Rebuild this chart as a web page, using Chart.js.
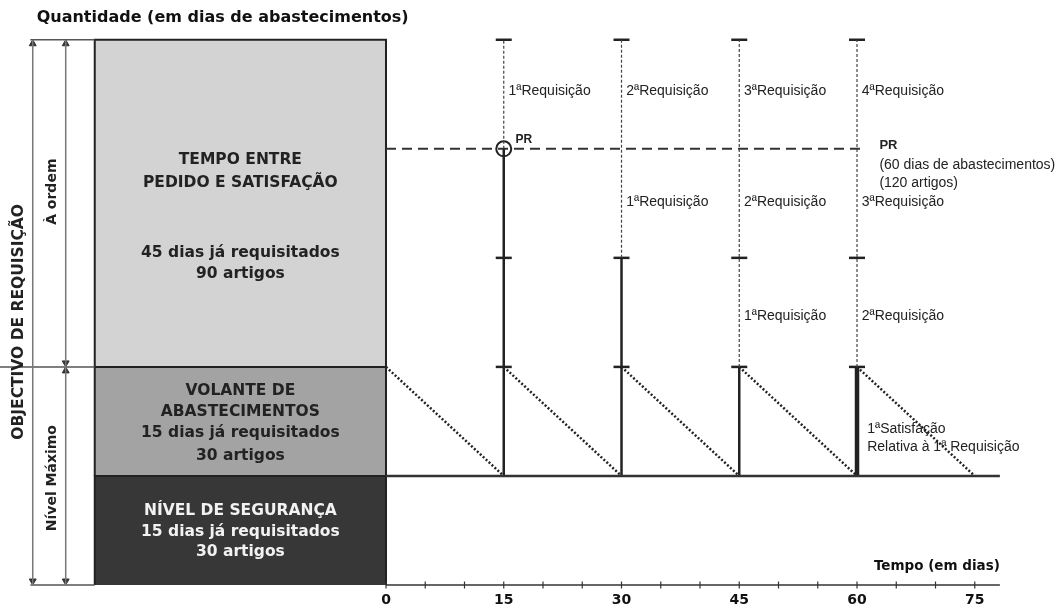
<!DOCTYPE html>
<html>
<head>
<meta charset="utf-8">
<script src="https://cdn.jsdelivr.net/npm/chart.js@4.4.1/dist/chart.umd.min.js"></script>
<style>
    body { margin: 0; background: #fff; }
    #contentor { width: 1063px; height: 608px; }
</style>
</head>
<body>
<div id="contentor"><canvas id="graficoRequisicao"></canvas></div>
<script>
const diasEixo = [0, 15, 30, 45, 60, 75];
const marcasEixo = [0, 5, 10, 15, 20, 25, 30, 35, 40, 45, 50, 55, 60, 65, 70, 75];
const diasRequisicao = [15, 30, 45, 60];
const topoSolido = [60, 45, 30, 30];          // até onde a linha de cada pedido é cheia
const marcasRequisicao = [75, 45, 30];        // traços em cada linha de pedido
const inicioDescida = [0, 15, 30, 45, 60];
const nivelSeguranca = 15;
const nivelVolante = 30;
const pontoPedido = 60;
const nivelMaximo = 75;
const limitesCaixas = [0, 15, 30, 75];
const coresCaixas = ['#373737', '#a3a3a3', '#d3d3d3'];
const linhasRequisicao = [68.0, 52.6, 37.0];
const fimEixo = 78.2;
const fimPR = 61;
const inicioCaixa = -37.1;
const setaExterior = -45;
const setaInterior = -40.8;

const fonteNegrito = '"DejaVu Sans", sans-serif';
const fonteNormal = '"Liberation Sans", Arial, sans-serif';

function linha(pontos, cor, largura, tracejado) {
    return {
        data: pontos,
        borderColor: cor,
        borderWidth: largura,
        borderDash: tracejado || [],
        pointRadius: 0,
        fill: false,
        clip: false
    };
}

function marcas(pontos, estilo, raio, rotacao, largura, cor) {
    return {
        data: pontos,
        showLine: false,
        pointStyle: estilo,
        pointRadius: raio,
        pointRotation: rotacao,
        pointBorderWidth: largura,
        pointBorderColor: cor,
        pointBackgroundColor: cor,
        clip: false
    };
}

let datasets = [];

// eixo do tempo e as suas marcas
datasets.push(linha([{ x: 0, y: 0 }, { x: fimEixo, y: 0 }], '#333', 1.5));
datasets.push(marcas(marcasEixo.map(d => ({ x: d, y: 0 })), 'line', 3.5, 90, 1.2, '#333'));

// nível de segurança (base do consumo)
datasets.push(linha([{ x: 0, y: nivelSeguranca }, { x: fimEixo, y: nivelSeguranca }], '#333', 2.5));

// linhas dos pedidos
diasRequisicao.forEach((d, i) => {
    datasets.push(linha([{ x: d, y: nivelSeguranca }, { x: d, y: topoSolido[i] }], '#222', i === 3 ? 4.5 : 2.5));
    datasets.push(linha([{ x: d, y: topoSolido[i] }, { x: d, y: nivelMaximo }], '#444', 1.2, [3, 2]));
    datasets.push(marcas(marcasRequisicao.map(v => ({ x: d, y: v })), 'line', 8, 0, 2.5, '#222'));
});

// consumo (dente de serra)
inicioDescida.forEach(s => {
    datasets.push(linha([{ x: s, y: nivelVolante }, { x: s + 15, y: nivelSeguranca }], '#222', 2.5, [2, 2]));
});

// ponto de encomenda
datasets.push(linha([{ x: 0, y: pontoPedido }, { x: fimPR, y: pontoPedido }], '#333', 2, [10, 6]));
datasets.push({
    data: [{ x: 15, y: pontoPedido }],
    showLine: false,
    pointStyle: 'circle',
    pointRadius: 7.5,
    pointBorderWidth: 2,
    pointBorderColor: '#222',
    pointBackgroundColor: 'rgba(0,0,0,0)',
    clip: false
});

// setas da esquerda
datasets.push(linha([{ x: setaExterior, y: 0 }, { x: setaExterior, y: nivelMaximo }], '#777', 1.5));
datasets.push(linha([{ x: setaInterior, y: 0 }, { x: setaInterior, y: nivelMaximo }], '#777', 1.5));
datasets.push(linha([{ x: setaExterior - 0.3, y: nivelMaximo }, { x: inicioCaixa, y: nivelMaximo }], '#555', 1.5));
datasets.push(linha([{ x: setaExterior - 0.3, y: 0 }, { x: inicioCaixa, y: 0 }], '#555', 1.5));
datasets.push(linha([{ x: -49.2, y: nivelVolante }, { x: inicioCaixa, y: nivelVolante }], '#555', 1.5));
datasets.push(marcas([
    { x: setaExterior, y: nivelMaximo - 0.55 },
    { x: setaExterior, y: 0.55 },
    { x: setaInterior, y: nivelMaximo - 0.55 },
    { x: setaInterior, y: nivelVolante + 0.55 },
    { x: setaInterior, y: nivelVolante - 0.55 },
    { x: setaInterior, y: 0.55 }
], 'triangle', 4, [0, 180, 0, 180, 0, 180], 1, '#333'));

// caixas empilhadas (ficam por baixo)
for (let i = 0; i < 3; i++) {
    const lo = limitesCaixas[i], hi = limitesCaixas[i + 1];
    datasets.push({
        data: [{ x: inicioCaixa, y: lo }, { x: inicioCaixa, y: hi }, { x: 0, y: hi }, { x: 0, y: lo }],
        borderColor: '#222',
        borderWidth: 2,
        backgroundColor: coresCaixas[i],
        fill: { value: lo },
        pointRadius: 0,
        clip: false
    });
}

// textos em coordenadas do gráfico
const centroCaixa = inicioCaixa / 2;
const letraCaixa = 'bold 15.5px ' + fonteNegrito;
const textos = [
    { texto: 'Quantidade (em dias de abastecimentos)', x: -44.5, y: 78.0, fonte: 'bold 16px ' + fonteNegrito, cor: '#111' },
    { texto: 'TEMPO ENTRE', x: centroCaixa, y: 58.5, fonte: letraCaixa, alinha: 'center' },
    { texto: 'PEDIDO E SATISFAÇÃO', x: centroCaixa, y: 55.3, fonte: letraCaixa, alinha: 'center' },
    { texto: '45 dias já requisitados', x: centroCaixa, y: 45.7, fonte: letraCaixa, alinha: 'center' },
    { texto: '90 artigos', x: centroCaixa, y: 42.8, fonte: letraCaixa, alinha: 'center' },
    { texto: 'VOLANTE DE', x: centroCaixa, y: 26.7, fonte: letraCaixa, alinha: 'center' },
    { texto: 'ABASTECIMENTOS', x: centroCaixa, y: 23.8, fonte: letraCaixa, alinha: 'center' },
    { texto: '15 dias já requisitados', x: centroCaixa, y: 20.9, fonte: letraCaixa, alinha: 'center' },
    { texto: '30 artigos', x: centroCaixa, y: 17.7, fonte: letraCaixa, alinha: 'center' },
    { texto: 'NÍVEL DE SEGURANÇA', x: centroCaixa, y: 10.2, fonte: letraCaixa, alinha: 'center', cor: '#f2f2f2' },
    { texto: '15 dias já requisitados', x: centroCaixa, y: 7.3, fonte: letraCaixa, alinha: 'center', cor: '#f2f2f2' },
    { texto: '30 artigos', x: centroCaixa, y: 4.5, fonte: letraCaixa, alinha: 'center', cor: '#f2f2f2' },
    { texto: 'OBJECTIVO DE REQUISIÇÃO', x: -46.8, y: 36.2, fonte: 'bold 15.5px ' + fonteNegrito, alinha: 'center', rot: -Math.PI / 2 },
    { texto: 'À ordem', x: -42.5, y: 54.1, fonte: 'bold 14px ' + fonteNegrito, alinha: 'center', rot: -Math.PI / 2 },
    { texto: 'Nível Máximo', x: -42.5, y: 14.7, fonte: 'bold 14px ' + fonteNegrito, alinha: 'center', rot: -Math.PI / 2 },
    { texto: 'PR', x: 16.5, y: 61.2, fonte: 'bold 12px ' + fonteNormal },
    { texto: 'PR', x: 62.85, y: 60.5, fonte: 'bold 13px ' + fonteNormal },
    { texto: '(60 dias de abastecimentos)', x: 62.85, y: 57.7, fonte: '14px ' + fonteNormal },
    { texto: '(120 artigos)', x: 62.85, y: 55.3, fonte: '14px ' + fonteNormal },
    { texto: '1ªSatisfação', x: 61.3, y: 21.5, fonte: '14px ' + fonteNormal },
    { texto: 'Relativa à 1ª Requisição', x: 61.3, y: 19.0, fonte: '14px ' + fonteNormal },
    { texto: 'Tempo (em dias)', x: fimEixo, y: 2.6, fonte: 'bold 13.5px ' + fonteNegrito, alinha: 'right', cor: '#111' }
];

linhasRequisicao.forEach((yLinha, r) => {
    for (let i = r; i < diasRequisicao.length; i++) {
        textos.push({ texto: (i - r + 1) + 'ªRequisição', x: diasRequisicao[i] + 0.6, y: yLinha, fonte: '14px ' + fonteNormal });
    }
});

const pluginTextos = {
    id: 'textos',
    afterDatasetsDraw(chart) {
        const ctx = chart.ctx;
        const escalaX = chart.scales.x;
        const escalaY = chart.scales.y;
        textos.forEach(t => {
            ctx.save();
            ctx.translate(escalaX.getPixelForValue(t.x), escalaY.getPixelForValue(t.y));
            if (t.rot) ctx.rotate(t.rot);
            ctx.font = t.fonte;
            ctx.fillStyle = t.cor || '#222';
            ctx.textAlign = t.alinha || 'left';
            ctx.textBaseline = 'middle';
            ctx.fillText(t.texto, 0, 0);
            ctx.restore();
        });
    }
};

const ctx = document.getElementById('graficoRequisicao').getContext('2d');
new Chart(ctx, {
    type: 'line',
    data: { datasets: datasets },
    options: {
        responsive: true,
        maintainAspectRatio: false,
        animation: false,
        layout: { padding: 0, autoPadding: false },
        plugins: {
            legend: { display: false },
            tooltip: { enabled: false }
        },
        scales: {
            x: {
                type: 'linear',
                min: -49.17,
                max: 86.24,
                grid: { display: false, drawTicks: false },
                border: { display: false },
                afterBuildTicks: (escala) => { escala.ticks = diasEixo.map(v => ({ value: v })); },
                afterFit: (escala) => { escala.height = 23; },
                ticks: {
                    padding: 7,
                    color: '#111',
                    font: { family: 'DejaVu Sans', size: 14, weight: 'bold' }
                }
            },
            y: {
                type: 'linear',
                min: 0,
                max: 80.47,
                display: false
            }
        }
    },
    plugins: [pluginTextos]
});
</script>
</body>
</html>
